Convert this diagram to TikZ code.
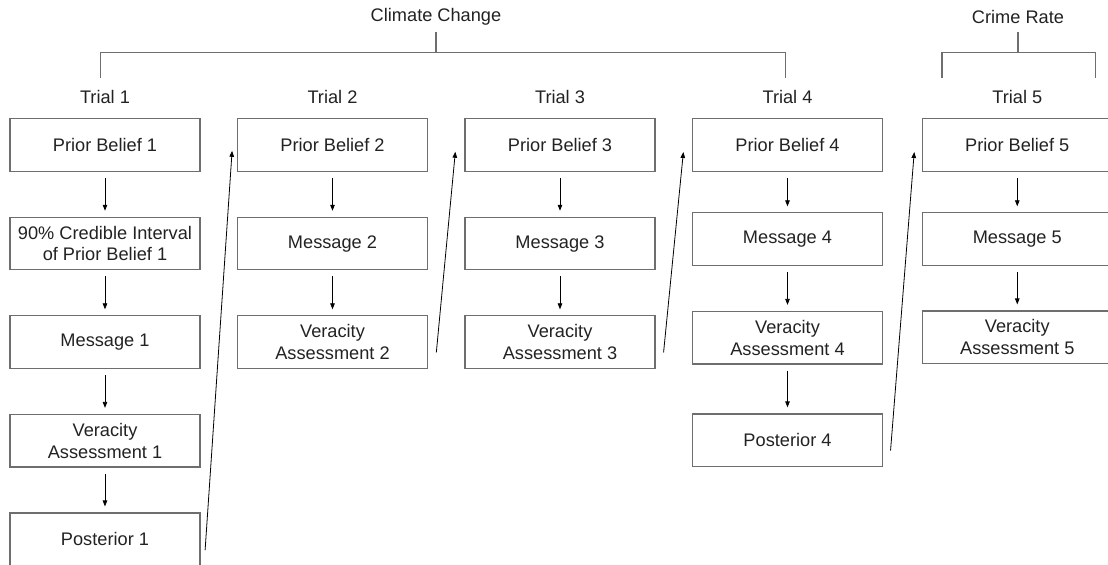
\documentclass[tikz,border=0pt]{standalone}
\usepackage{fontspec}
\setmainfont{Liberation Sans}
\usetikzlibrary{positioning}
\usetikzlibrary{arrows.meta}
\definecolor{boxgray}{RGB}{110,110,110}
\definecolor{inkgray}{RGB}{34,34,34}

\begin{document}
\begin{tikzpicture}[
      x=170.6pt, y=73.9pt, >={Triangle[length=4.5pt,width=3.4pt]},
      stage/.style={rectangle, draw=boxgray, line width=0.85pt, minimum width=142.5pt,
        minimum height=39.4pt, inner sep=0pt, align=center, text=inkgray,
        font=\fontsize{13.65}{16.3}\selectfont},
      trial/.style={text=inkgray, font=\fontsize{13.65}{16.3}\selectfont},
      bracket/.style={draw=boxgray, line width=0.85pt},
      flow/.style={->, line width=0.6pt, shorten <=4.5pt, shorten >=4.5pt},
      jump/.style={->, line width=0.6pt}]
      \path[use as bounding box, clip] (-0.4615,1.472) rectangle (4.4088,-4.254);
      % topics and the trials they cover
      \node[trial] (climate) at (1.455,1.30) {Climate Change};
      \node[trial] (crime)   at (4.013,1.30) {Crime Rate};
      \node[trial] (trial1) at (0,0.487)    {Trial 1};
      \node[trial] (trial2) at (1,0.487)    {Trial 2};
      \node[trial] (trial3) at (2,0.487)    {Trial 3};
      \node[trial] (trial4) at (3,0.487)    {Trial 4};
      \node[trial] (trial5) at (4.01,0.487) {Trial 5};
      \coordinate (cl) at (-0.02,0.68);
      \coordinate (cr) at (2.993,0.68);
      \coordinate (cs) at (1.455,1.147);
      \coordinate (rl) at (3.679,0.68);
      \coordinate (rr) at (4.352,0.68);
      \coordinate (rs) at (4.013,1.147);
      \draw[bracket] (cl) -- ++(0,0.26) -| (cr);
      \draw[bracket] (cs) -- ++(0,-0.207);
      \draw[bracket] (rl) -- ++(0,0.26) -| (rr);
      \draw[bracket] (rs) -- ++(0,-0.207);
      % trial 1
      \node[stage] (pb1)   at (0,0)  {Prior Belief 1};
      \node[stage] (ci1)   at (0,-1) {90\% Credible Interval\\of Prior Belief 1};
      \node[stage] (msg1)  at (0,-2) {Message 1};
      \node[stage] (va1)   at (0,-3) {Veracity\\Assessment 1};
      \node[stage] (post1) at (0,-4) {Posterior 1};
      % trials 2 and 3
      \node[stage] (pb2)  at (1,0)  {Prior Belief 2};
      \node[stage] (msg2) at (1,-1) {Message 2};
      \node[stage] (va2)  at (1,-2) {Veracity\\Assessment 2};
      \node[stage] (pb3)  at (2,0)  {Prior Belief 3};
      \node[stage] (msg3) at (2,-1) {Message 3};
      \node[stage] (va3)  at (2,-2) {Veracity\\Assessment 3};
      % trials 4 and 5 sit a little higher
      \node[stage] (pb4)   at (3,0)      {Prior Belief 4};
      \node[stage] (msg4)  at (3,-0.955) {Message 4};
      \node[stage] (va4)   at (3,-1.955) {Veracity\\Assessment 4};
      \node[stage] (post4) at (3,-2.995) {Posterior 4};
      \node[stage] (pb5)  at (4.01,0)      {Prior Belief 5};
      \node[stage] (msg5) at (4.01,-0.955) {Message 5};
      \node[stage] (va5)  at (4.01,-1.95)  {Veracity\\Assessment 5};
      \draw[flow] (pb1) -- (ci1);
      \draw[flow] (ci1) -- (msg1);
      \draw[flow] (msg1) -- (va1);
      \draw[flow] (va1) -- (post1);
      \draw[flow] (pb2) -- (msg2);
      \draw[flow] (msg2) -- (va2);
      \draw[flow] (pb3) -- (msg3);
      \draw[flow] (msg3) -- (va3);
      \draw[flow] (pb4) -- (msg4);
      \draw[flow] (msg4) -- (va4);
      \draw[flow] (va4) -- (post4);
      \draw[flow] (pb5) -- (msg5);
      \draw[flow] (msg5) -- (va5);
      % last step of a trial feeds the next prior
      \draw[jump] ([xshift=3.4pt,yshift=12pt]post1.south east) -- ([xshift=-3.6pt,yshift=-4.3pt]pb2.west);
      \draw[jump] ([xshift=6.2pt,yshift=12.5pt]va2.south east) -- ([xshift=-6.8pt,yshift=-5pt]pb3.west);
      \draw[jump] ([xshift=6pt,yshift=12.4pt]va3.south east) -- ([xshift=-6.4pt,yshift=-5.2pt]pb4.west);
      \draw[jump] ([xshift=5.6pt,yshift=12.4pt]post4.south east) -- ([xshift=-5.6pt,yshift=-5.2pt]pb5.west);
    \end{tikzpicture}
\end{document}
